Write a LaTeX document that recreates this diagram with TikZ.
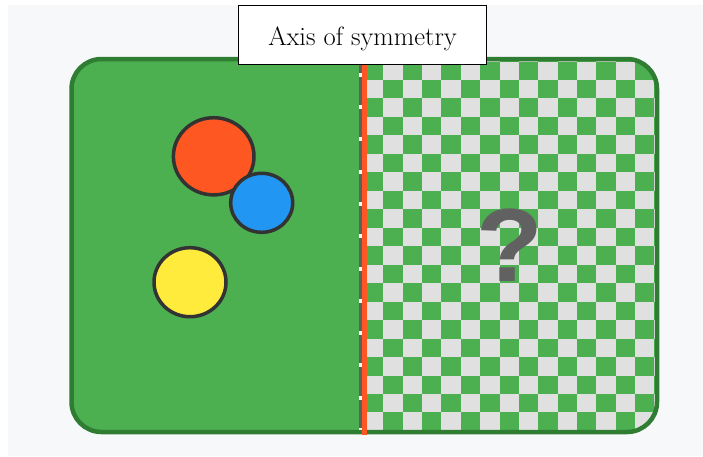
\documentclass[tikz,border=0pt]{standalone}
\usepackage{fontspec}
\newfontfamily\qfont{Liberation Sans}
\usetikzlibrary{shapes.geometric}
\definecolor{pagebg}{HTML}{F7F8FA}
\definecolor{fieldgreen}{HTML}{4CAF50}
\definecolor{framegreen}{HTML}{2E7D32}
\definecolor{checkgray}{HTML}{E0E0E0}
\definecolor{axisred}{HTML}{FF5722}
\definecolor{dotblue}{HTML}{2196F3}
\definecolor{dotyellow}{HTML}{FFEB3B}
\definecolor{outline}{HTML}{333333}
\definecolor{qgray}{HTML}{616161}
\definecolor{dashgray}{HTML}{5F5F5F}
\tikzset{
  frame/.style={rounded corners=30pt},
  dot/.style={ellipse, draw=outline, line width=3.5pt, inner sep=0pt},
}
\begin{document}
\begin{tikzpicture}[x=1pt,y=-1pt]
  \useasboundingbox (0,0) rectangle (703,456);
  % page background
  \fill[pagebg] (8,5) rectangle (703,456);
  % green field
  \fill[fieldgreen, frame] (71.5,59) rectangle (657,432);
  % checkerboard on the right half
  \begin{scope}
    \clip[frame] (71.5,59) rectangle (657,432);
    \fill[checkgray] (364,59) rectangle (657,432);
    \foreach \i in {0,...,15}{
      \foreach \j in {-1,...,20}{
        \pgfmathtruncatemacro\chk{mod(\i+\j+100,2)}
        \ifnum\chk=0
          \fill[fieldgreen] (364+\i*19.36,61.5+\j*18.47) rectangle ++(19.36,18.47);
        \fi
      }
    }
  \end{scope}
  % dashed axis
  \coordinate (dtop) at (360,61);
  \coordinate (dbot) at (360,430);
  \draw[white, line width=3pt] (dtop) -- (dbot);
  \draw[dashgray, line width=3pt, dash pattern=on 28.3pt off 4pt, dash phase=16.6pt] (dtop) -- (dbot);
  % frame outline
  \draw[framegreen, line width=4.5pt, frame] (71.5,59) rectangle (657,432);
  % red mirror line
  \coordinate (rtop) at (364.3,57);
  \coordinate (rbot) at (364.3,435);
  \draw[axisred, line width=4.6pt] (rtop) -- (rbot);
  % shapes on the left half
  \node[dot, fill=axisred, minimum width=80.6pt, minimum height=77.2pt] (red) at (213.7,156.3) {};
  \node[dot, fill=dotblue, minimum width=62pt, minimum height=59pt] (blue) at (261.7,202.8) {};
  \node[dot, fill=dotyellow, minimum width=72pt, minimum height=69pt] (yellow) at (190,282.2) {};
  % unknown mirror image
  \node[anchor=base, text=qgray, inner sep=0pt, xscale=1.05,
        font=\qfont\bfseries\fontsize{104}{106}\selectfont] (qmark) at (510,281) {?};
  % caption box
  \node[draw=black, fill=white, line width=1pt, inner sep=0pt,
        minimum width=248.4pt, minimum height=59pt,
        text height=21pt, text depth=0pt,
        font=\fontsize{26.5}{30}\selectfont] (caption) at (362.5,34.5) {Axis of symmetry};
\end{tikzpicture}
\end{document}
